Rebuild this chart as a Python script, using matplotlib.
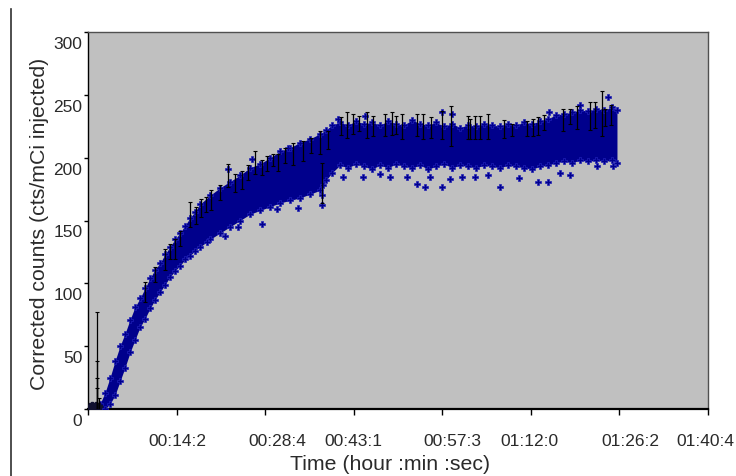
import matplotlib
matplotlib.use("Agg")
import matplotlib.pyplot as plt
from matplotlib.transforms import ScaledTranslation
from matplotlib.lines import Line2D

plt.rcParams['font.family'] = ['Liberation Sans', 'DejaVu Sans']

# ---------------- data (time in seconds, counts in cts/mCi injected) ----------------
band_t = [117, 166, 215, 263, 312, 361, 410, 458, 507, 556,
          605, 654, 703, 751, 800, 849, 897, 946, 995, 1044,
          1093, 1190, 1288, 1385, 1483, 1580, 1678, 1776, 1873, 1971,
          2068, 2166, 2263, 2322, 2380,
          2458, 2536, 2614, 2692, 2770, 2848, 2927, 3005, 3083, 3161,
          3239, 3317, 3395, 3473, 3551, 3629, 3707, 3785, 3863, 3941,
          4019, 4097, 4175, 4253, 4331, 4409, 4487, 4565, 4643, 4721,
          4799, 4878, 4956, 5034, 5112, 5160]
band_hi = [4, 13, 25, 38, 50, 60, 71, 81, 88, 96,
           104, 111, 116, 123, 129, 135, 140, 146, 152, 157,
           163, 170, 176, 181, 186, 192, 195, 200, 205, 208,
           212, 215, 219, 222, 226,
           228, 226, 229, 227, 228, 226, 229, 227, 226, 230,
           227, 226, 228, 225, 227, 224, 226, 225, 227, 226,
           225, 227, 226, 228, 227, 229, 231, 234, 235, 236,
           238, 237, 239, 238, 240, 238]
band_lo = [0, 0, 4, 11, 22, 33, 45, 55, 65, 72,
           80, 87, 93, 99, 105, 110, 114, 119, 122, 126,
           129, 135, 140, 145, 150, 155, 158, 161, 164, 166,
           168, 171, 174, 182, 188,
           194, 192, 195, 193, 191, 194, 192, 195, 193, 192,
           194, 191, 193, 195, 192, 194, 193, 192, 194, 193,
           192, 194, 193, 192, 191, 193, 194, 196, 197, 196,
           198, 197, 198, 197, 198, 196]

# scattered points outside the dense band
out_t = [2487, 2683, 2848, 2946, 3112, 3209, 3287, 3336, 3453, 3531,
         3648, 3775, 4019, 4390, 4487, 4965, 5121, 2283, 2283, 2290,
         1697, 1463, 1843, 1336, 1161, 2050, 4200, 3900, 4600, 4700,
         1600, 1366, 1951, 3453, 2439, 5073, 4800, 4500, 2700, 3550]
out_y = [185, 185, 187, 185, 185, 179, 177, 185, 177, 183,
         185, 185, 177, 181, 181, 193, 193, 162, 170, 178,
         147, 145, 159, 138, 133, 160, 184, 186, 188, 186,
         199, 191, 208, 236, 231, 248, 242, 236, 233, 235]

# early baseline points
base_t = [5, 15, 25, 35, 45, 55, 65, 75, 85, 95, 105]
base_y = [1, 2, 1, 3, 2, 1, 2, 3, 2, 1, 2]

# error bars: point time, point value, half-length
eb_t = [88, 88, 88, 88, 107,
        556, 650, 751, 800, 849, 900, 995, 1050, 1100, 1150, 1200, 1290, 1366, 1430, 1500,
        1560, 1629, 1700, 1750, 1800, 1853, 1920, 2000, 2097, 2180, 2263, 2283, 2341,
        2470, 2527, 2585, 2640, 2722, 2780, 2897, 2966, 3000, 3063,
        3209, 3268, 3350, 3453, 3541, 3707, 3726, 3775, 3824, 3902,
        4060, 4136, 4282, 4341, 4390, 4450, 4634, 4700, 4770, 4897,
        4946, 5014, 5043, 5100]
eb_y = [2, 2, 2, 2, 2,
        93, 107, 119, 125, 127, 136, 155, 154, 160, 163, 166, 172, 186, 180, 182,
        188, 196, 192, 195, 198, 196, 202, 203, 205, 210, 212, 180, 214,
        225, 226, 227, 227, 226, 225, 226, 227, 226, 225,
        226, 225, 224, 226, 225, 224, 223, 224, 224, 225,
        223, 222, 223, 224, 225, 228, 230, 233, 232, 233,
        234, 235, 232, 234]
eb_err = [75, 36, 23, 15, 7,
          8, 6, 8, 6, 8, 6, 10, 7, 7, 6, 8, 6, 9, 7, 7,
          6, 9, 6, 6, 5, 7, 6, 9, 8, 6, 9, 16, 7,
          7, 10, 8, 6, 10, 8, 9, 9, 7, 10,
          9, 10, 8, 11, 16, 9, 8, 9, 9, 10,
          7, 5, 6, 7, 7, 6, 9, 6, 9, 11,
          10, 18, 7, 8]

x_ticks = [0, 864, 1728, 2592, 3456, 4320, 5184, 6048]
x_labels = ['', '00:14:2', '00:28:4', '00:43:1', '00:57:3', '01:12:0', '01:26:2', '01:40:4']
y_ticks = [0, 50, 100, 150, 200, 250, 300]

# ---------------- figure ----------------
W, H = 736, 477
fig = plt.figure(figsize=(W / 100, H / 100), dpi=100)
ax = fig.add_axes([88 / W, (H - 410) / H, 620 / W, 377 / H])
ax.set_facecolor('#c0c0c0')

navy = '#00008c'
ax.fill_between(band_t, band_lo, band_hi, color=navy, lw=0, zorder=2)
mk = dict(marker='P', ms=4.0, mfc=navy, mec='#2020b8', mew=0.5, ls='none', zorder=3)
ax.plot(band_t, band_hi, **mk)
ax.plot(band_t, band_lo, **mk)
ax.plot(out_t, out_y, **mk)
ax.plot(base_t, base_y, marker='P', ms=4, mfc='#101030', mec='#101030', ls='none', zorder=3)
ax.errorbar(eb_t, eb_y, yerr=eb_err, fmt='none', ecolor='black', elinewidth=0.9,
            capsize=1.2, capthick=0.8, zorder=4)

ax.set_xlim(0, 6048)
ax.set_ylim(0, 300)
ax.set_xticks(x_ticks)
ax.set_xticklabels(x_labels)
ax.set_yticks(y_ticks)

txt = '#2a2a2a'
ax.tick_params(axis='x', length=4, width=1, pad=13, labelsize=12.5, colors='black', labelcolor=txt)
ax.tick_params(axis='y', length=3, width=1, pad=1, labelsize=12.5, colors='black', labelcolor=txt)

for side in ['top', 'right']:
    ax.spines[side].set_color('#505050')
    ax.spines[side].set_linewidth(1)
ax.spines['left'].set_color('black')
ax.spines['left'].set_linewidth(1)
ax.spines['bottom'].set_color('black')
ax.spines['bottom'].set_linewidth(1.6)

# label offsets (pixels) to mimic original placement
for lbl in ax.get_yticklabels():
    lbl.set_transform(lbl.get_transform() + ScaledTranslation(0, -10 / 100, fig.dpi_scale_trans))
x_dx = [0, 0.5, 12, 0, 10, -1, 11, -3]
for lbl, dx in zip(ax.get_xticklabels(), x_dx):
    lbl.set_transform(lbl.get_transform() + ScaledTranslation(dx / 100, 0, fig.dpi_scale_trans))

ax.set_xlabel('Time (hour :min :sec)', fontsize=15.3, color=txt, va='center')
ax.xaxis.set_label_coords((390 - 88) / 620, (410 - 465) / 377)
ax.set_ylabel('Corrected counts (cts/mCi injected)', fontsize=15.3, color=txt, va='center')
ax.yaxis.set_label_coords((40 - 88) / 620, (410 - 224) / 377)

fig.add_artist(Line2D([11 / W, 11 / W], [0, 1 - 10 / H], transform=fig.transFigure,
                      color='#303030', lw=1.2))

fig.savefig('out.png', dpi=100)
